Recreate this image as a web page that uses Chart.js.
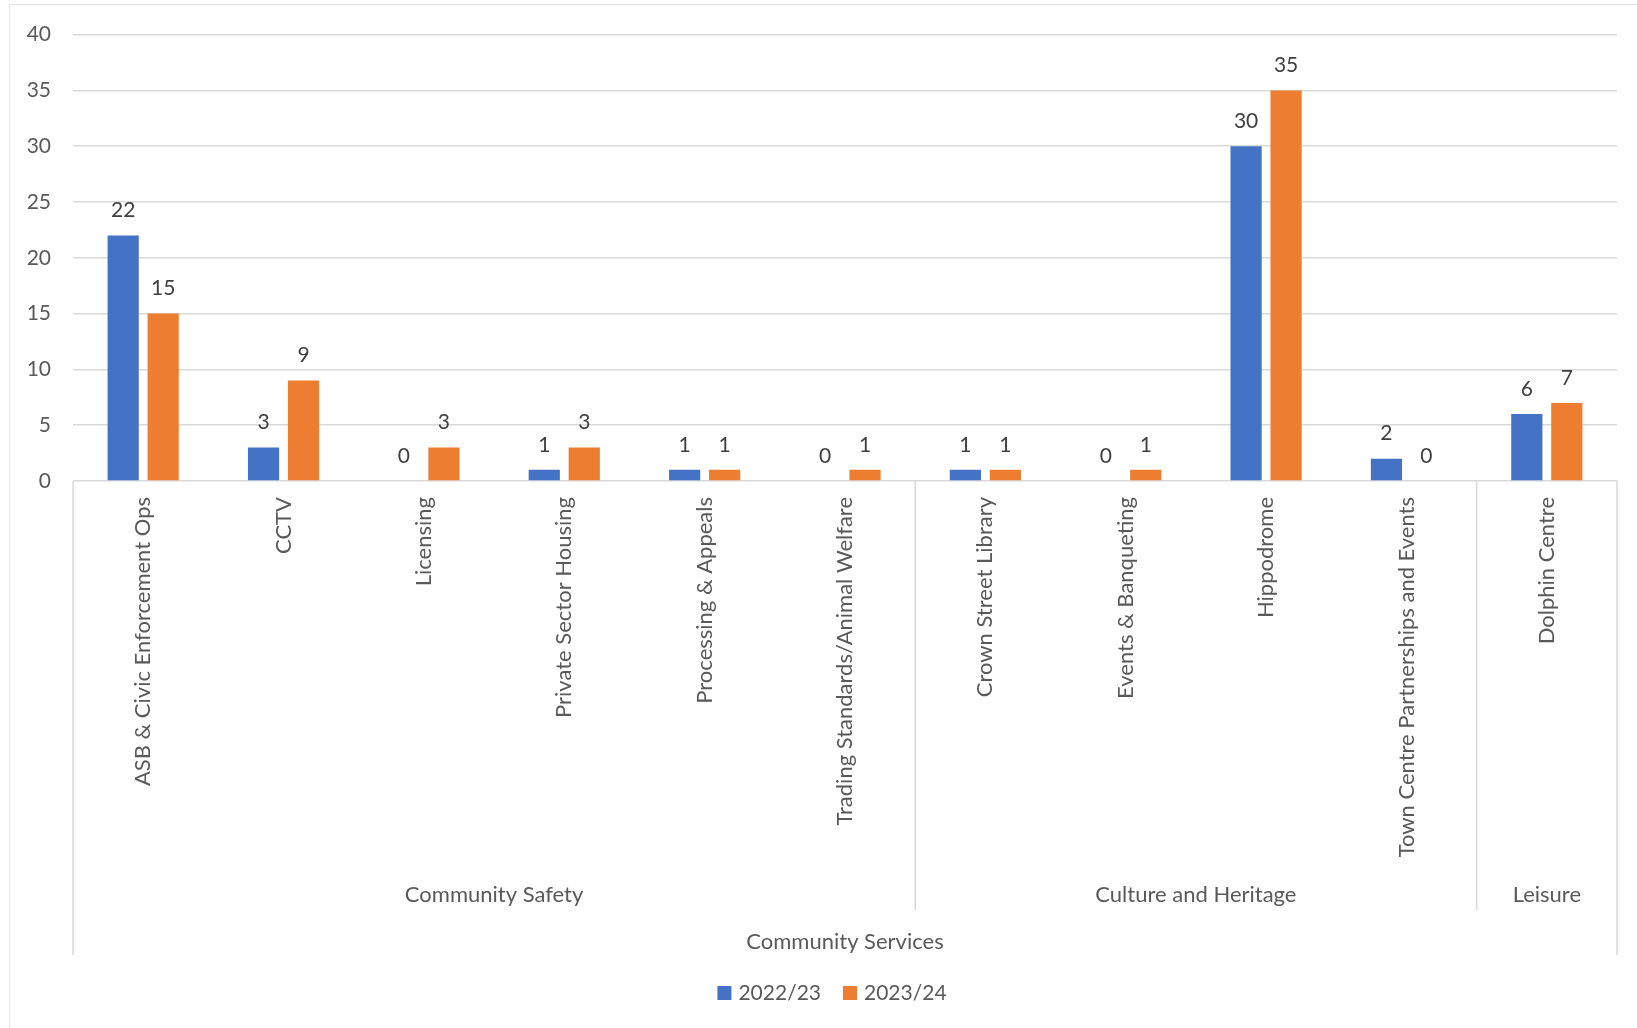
<!DOCTYPE html>
<html>
<head>
<meta charset="utf-8">
<script src="https://cdn.jsdelivr.net/npm/chart.js@4"></script>
<style>
  html, body { margin: 0; padding: 0; background: #fff; }
  #wrap { width: 1637px; height: 1028px; position: relative; }
</style>
</head>
<body>
<div id="wrap"><canvas id="chart"></canvas></div>
<script>
// ==================== DATA ====================
const categories = [
  'ASB & Civic Enforcement Ops', 'CCTV', 'Licensing', 'Private Sector Housing',
  'Processing & Appeals', 'Trading Standards/Animal Welfare',
  'Crown Street Library', 'Events & Banqueting', 'Hippodrome',
  'Town Centre Partnerships and Events', 'Dolphin Centre'
];
const values2223 = [22, 3, 0, 1, 1, 0, 1, 0, 30, 2, 6];
const values2324 = [15, 9, 3, 3, 1, 1, 1, 1, 35, 0, 7];
const seriesNames = ['2022/23', '2023/24'];
const seriesColors = ['#4472C4', '#ED7D31'];
const groupLabels = ['Community Safety', 'Culture and Heritage', 'Leisure'];
const groupSizes = [6, 4, 1];
const topGroupLabel = 'Community Services';
const yMax = 40;
const yStep = 5;

const TEXT = '#595959';
const GRID = '#d9d9d9';
const FONT = 'Lato';

// ==================== PLUGINS ====================
const frame = {
  id: 'frame',
  beforeDraw(chart) {
    const ctx = chart.ctx;
    ctx.save();
    ctx.fillStyle = '#fff';
    ctx.fillRect(0, 0, chart.width, chart.height);
    ctx.strokeStyle = '#e3e3e3';
    ctx.lineWidth = 1;
    ctx.strokeRect(9.5, 4.5, chart.width + 50, chart.height + 50);
    ctx.restore();
  }
};

// value labels above each bar (zeros too)
const barValues = {
  id: 'barValues',
  afterDatasetsDraw(chart) {
    const ctx = chart.ctx;
    ctx.save();
    ctx.font = '21px ' + FONT;
    ctx.fillStyle = '#404040';
    ctx.textAlign = 'center';
    ctx.textBaseline = 'middle';
    chart.data.datasets.forEach((ds, i) => {
      chart.getDatasetMeta(i).data.forEach((bar, j) => {
        ctx.fillText(String(ds.data[j]), bar.x, bar.y - 25);
      });
    });
    ctx.restore();
  }
};

// multi-level category axis: group lines + labels
const groupAxis = {
  id: 'groupAxis',
  afterDraw(chart) {
    const { ctx, chartArea, scales: { x } } = chart;
    const half = (x.getPixelForValue(1) - x.getPixelForValue(0)) / 2;
    const base = chartArea.bottom;
    const bounds = [x.getPixelForValue(0) - half];
    let idx = 0;
    groupSizes.forEach(n => { idx += n; bounds.push(x.getPixelForValue(idx - 1) + half); });

    ctx.save();
    ctx.strokeStyle = GRID;
    ctx.lineWidth = 1.5;
    bounds.forEach((bx, i) => {
      const outer = i === 0 || i === bounds.length - 1;
      ctx.beginPath();
      ctx.moveTo(bx, base);
      ctx.lineTo(bx, base + (outer ? 474 : 429));
      ctx.stroke();
    });

    ctx.font = '22px ' + FONT;
    ctx.fillStyle = TEXT;
    ctx.textAlign = 'center';
    ctx.textBaseline = 'middle';
    groupLabels.forEach((label, i) => {
      ctx.fillText(label, (bounds[i] + bounds[i + 1]) / 2, base + 414);
    });
    ctx.fillText(topGroupLabel, (bounds[0] + bounds[bounds.length - 1]) / 2, base + 461);
    ctx.restore();
  }
};

// legend at the bottom, Excel style (small square, tight gap)
const bottomLegend = {
  id: 'bottomLegend',
  afterDraw(chart) {
    const ctx = chart.ctx;
    const box = 14, gap = 7, itemGap = 22, cy = 993, cx = 832;
    ctx.save();
    ctx.font = '21px ' + FONT;
    ctx.textBaseline = 'middle';
    const widths = seriesNames.map(n => box + gap + ctx.measureText(n).width);
    const total = widths.reduce((a, b) => a + b, 0) + itemGap * (widths.length - 1);
    let x = cx - total / 2;
    seriesNames.forEach((name, i) => {
      ctx.fillStyle = seriesColors[i];
      ctx.fillRect(x, cy - box / 2, box, box);
      ctx.fillStyle = TEXT;
      ctx.fillText(name, x + box + gap, cy);
      x += widths[i] + itemGap;
    });
    ctx.restore();
  }
};

// ==================== CHART ====================
Chart.defaults.font.family = FONT;
Chart.defaults.color = TEXT;

new Chart(document.getElementById('chart'), {
  type: 'bar',
  data: {
    labels: categories,
    datasets: [
      { label: seriesNames[0], data: values2223, backgroundColor: seriesColors[0] },
      { label: seriesNames[1], data: values2324, backgroundColor: seriesColors[1] }
    ]
  },
  options: {
    responsive: true,
    maintainAspectRatio: false,
    animation: false,
    categoryPercentage: 0.57,
    barPercentage: 0.78,
    layout: { padding: { top: 31, right: 20, left: 10, bottom: 55 } },
    scales: {
      x: {
        grid: { display: false },
        border: { display: false },
        ticks: {
          autoSkip: false,
          minRotation: 90,
          maxRotation: 90,
          padding: 8,
          color: TEXT,
          font: { size: 22, family: FONT }
        },
        afterFit(scale) { scale.height = 492; }
      },
      y: {
        min: 0,
        max: yMax,
        ticks: {
          stepSize: yStep,
          padding: 22,
          color: TEXT,
          font: { size: 21, family: FONT }
        },
        grid: { color: GRID, lineWidth: 1.5, drawTicks: false },
        border: { display: false },
        afterFit(scale) { scale.width = 63; }
      }
    },
    plugins: {
      legend: { display: false },
      tooltip: { enabled: false }
    }
  },
  plugins: [frame, barValues, groupAxis, bottomLegend]
});
</script>
</body>
</html>
